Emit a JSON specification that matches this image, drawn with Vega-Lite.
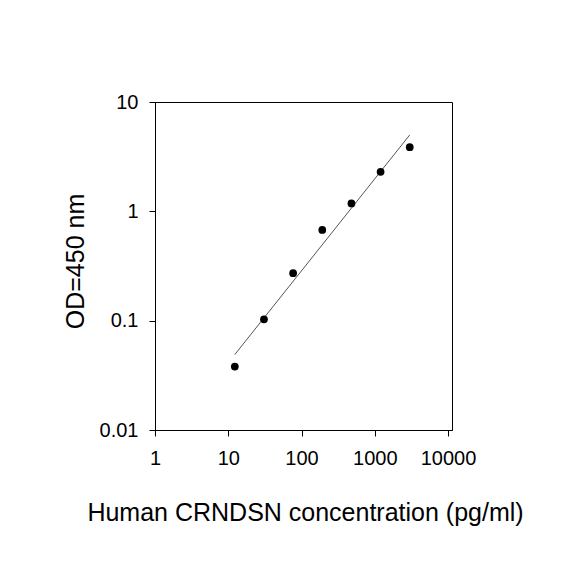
{
  "$schema": "https://vega.github.io/schema/vega-lite/v6.json",
  "autosize": "none",
  "width": 297,
  "height": 328,
  "padding": {"left": 155, "top": 102, "right": 132, "bottom": 154},
  "background": "white",
  "config": {
    "font": "Liberation Sans",
    "view": {"stroke": "black", "strokeWidth": 1},
    "axis": {
      "grid": false,
      "domainColor": "black",
      "tickColor": "black",
      "labelColor": "black",
      "titleColor": "black",
      "labelFont": "Liberation Sans",
      "titleFont": "Liberation Sans",
      "titleFontWeight": "normal",
      "labelFontSize": 20,
      "titleFontSize": 25,
      "tickSize": 6
    }
  },
  "datasets": {
    "points": [
      {"conc": 12.288, "od": 0.038},
      {"conc": 30.72, "od": 0.103},
      {"conc": 76.8, "od": 0.272},
      {"conc": 192, "od": 0.676},
      {"conc": 480, "od": 1.18},
      {"conc": 1200, "od": 2.3},
      {"conc": 3000, "od": 3.86}
    ],
    "fit": [
      {"conc": 12.288, "od": 0.049},
      {"conc": 3000, "od": 5.0}
    ]
  },
  "layer": [
    {
      "data": {"name": "fit"},
      "mark": {"type": "line", "color": "#555555", "strokeWidth": 1},
      "encoding": {
        "x": {"field": "conc", "type": "quantitative", "scale": {"type": "log", "domain": [1, 11320], "nice": false}},
        "y": {"field": "od", "type": "quantitative", "scale": {"type": "log", "domain": [0.01, 10], "nice": false}}
      }
    },
    {
      "data": {"name": "points"},
      "mark": {"type": "point", "filled": true, "color": "black", "opacity": 1, "size": 60},
      "encoding": {
        "x": {
          "field": "conc", "type": "quantitative",
          "scale": {"type": "log", "domain": [1, 11320], "nice": false},
          "axis": {
            "values": [1, 10, 100, 1000, 10000],
            "format": "d",
            "labelPadding": 12,
            "labelFlush": false,
            "title": "Human CRNDSN concentration (pg/ml)",
            "titleBaseline": "alphabetic",
            "titleY": 90,
            "titleX": 150
          }
        },
        "y": {
          "field": "od", "type": "quantitative",
          "scale": {"type": "log", "domain": [0.01, 10], "nice": false},
          "axis": {
            "values": [0.01, 0.1, 1, 10],
            "format": "~g",
            "labelPadding": 11,
            "labelFlush": false,
            "title": "OD=450 nm",
            "titleAngle": -90,
            "titleBaseline": "alphabetic",
            "titleAlign": "center",
            "titleX": -72,
            "titleY": 159
          }
        }
      }
    }
  ]
}
